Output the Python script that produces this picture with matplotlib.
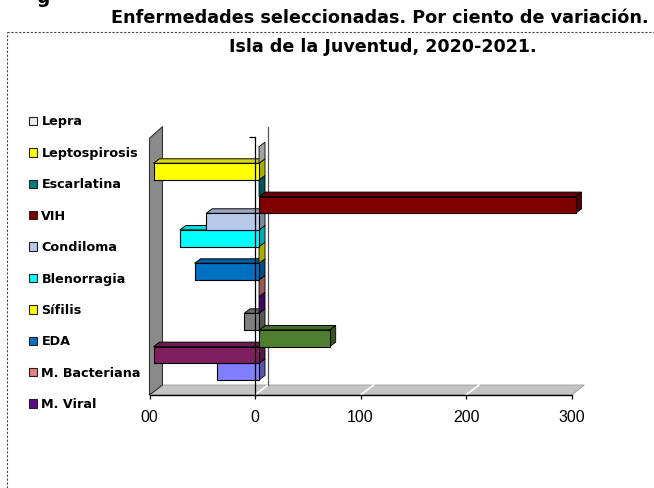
import matplotlib
matplotlib.use("Agg")
import matplotlib.pyplot as plt
from matplotlib.patches import Polygon, Patch
from matplotlib.lines import Line2D
from matplotlib.colors import to_rgb

# ---------------- data ----------------
title_line1 = "Enfermedades seleccionadas. Por ciento de variación."
title_line2 = "Isla de la Juventud, 2020-2021."

# named series (top to bottom, as in the legend)
categories = ["Lepra", "Leptospirosis", "Escarlatina", "VIH", "Condiloma",
              "Blenorragia", "Sífilis", "EDA", "M. Bacteriana", "M. Viral"]
values = [0, -100, 0, 300, -50, -75, 0, -61, 0, 0]
colors = ["#EEEEEE", "#FFFF00", "#007F7F", "#800000", "#B8C8E8",
          "#00FFFF", "#FFFF00", "#0070C0", "#E48080", "#5A0A8A"]

# series below them whose legend entries are cut off in the original
extra_values = [-14, 67, -100, -40]
extra_colors = ["#808080", "#4E7F2E", "#7F1F5F", "#8080FF"]

xticks = [-100, 0, 100, 200, 300]
xtick_labels = ["00", "0", "100", "200", "300"]

# ---------------- figure ----------------
W, H = 654, 488
fig = plt.figure(figsize=(W / 100, H / 100), dpi=100)

# axes mapping: px = 255 + 1.055*x ; py = 380 - 16.67*y
xlim = (-120, 320)
ylim = (-2, 16)
px_per_x = 1.055
px_per_y = 16.67
left_px = 255 + xlim[0] * px_per_x
bot_px = 380 - ylim[0] * px_per_y
ax = fig.add_axes([left_px / W, (H - bot_px) / H,
                   (xlim[1] - xlim[0]) * px_per_x / W,
                   (ylim[1] - ylim[0]) * px_per_y / H])
ax.set_xlim(*xlim)
ax.set_ylim(*ylim)
ax.patch.set_visible(False)

# 3D geometry (data units)
DX, DY = 12.3, 0.6        # depth of walls / floor
floor_y = -0.9
wall_top = 14.5
sx = 3.8                  # bar front-face shift
dxb, dyb = 5.7, 0.27      # bar depth


def shade(c, f):
    return tuple(min(1.0, v * f) for v in to_rgb(c))


# floor
ax.add_patch(Polygon([(-100, floor_y), (300, floor_y), (300 + DX, floor_y + DY),
                      (-100 + DX, floor_y + DY)], closed=True,
                     facecolor="#C4C4C4", edgecolor="#9A9A9A", lw=0.6, zorder=1))
for gx in [0, 100, 200]:
    ax.plot([gx, gx + DX], [floor_y, floor_y + DY], color="white", lw=1.2, zorder=1.1)
# left wall
ax.add_patch(Polygon([(-100, floor_y), (-100, wall_top), (-100 + DX, wall_top + DY + 0.1),
                      (-100 + DX, floor_y + DY)], closed=True,
                     facecolor="#8A8A8A", edgecolor="#333333", lw=0.8, zorder=1))
# back gridline at 0
ax.plot([DX, DX], [floor_y + DY, 15.2], color="#555555", lw=0.9, zorder=1.2)

# bars: bottom series first
all_values = values + extra_values
all_colors = colors + extra_colors
n = len(all_values)
for k in range(n - 1, -1, -1):
    v = all_values[k]
    c = all_colors[k]
    j = n - 1 - k
    z = 2 + j * 0.05
    x0 = min(0, v) + sx
    x1 = max(0, v) + sx
    if v != 0:
        ax.add_patch(Polygon([(x0, j + 1), (x1, j + 1), (x1 + dxb, j + 1 + dyb),
                              (x0 + dxb, j + 1 + dyb)], closed=True,
                             facecolor=shade(c, 0.85), edgecolor="black", lw=0.7, zorder=z))
    ax.add_patch(Polygon([(x1, j), (x1, j + 1), (x1 + dxb, j + 1 + dyb),
                          (x1 + dxb, j + dyb)], closed=True,
                         facecolor=shade(c, 0.68), edgecolor="black", lw=0.6, zorder=z))
    if v != 0:
        ax.barh(j + 0.5, v, left=sx, height=1.0, color=c, edgecolor="black",
                lw=0.8, zorder=z + 0.01)

# axes lines
for s in ["top", "right"]:
    ax.spines[s].set_visible(False)
ax.spines["bottom"].set_position(("data", floor_y))
ax.spines["bottom"].set_bounds(-100, 300)
ax.spines["bottom"].set_zorder(10)
ax.spines["bottom"].set_linewidth(1.0)
ax.spines["left"].set_position(("data", 0))
ax.spines["left"].set_bounds(floor_y, 14.6)
ax.spines["left"].set_zorder(10)
ax.spines["left"].set_linewidth(0.9)
ax.set_xticks(xticks)
ax.set_xticklabels(xtick_labels, family="Liberation Sans", fontsize=11.5)
ax.set_yticks([14.6])
ax.set_yticklabels([""])
ax.tick_params(axis="x", direction="out", length=3, width=0.9, pad=7.5, colors="black")
ax.tick_params(axis="y", direction="out", length=4, width=0.9)

# legend
handles = [Patch(facecolor=c, edgecolor="#222222", lw=0.8) for c in colors]
leg = fig.legend(handles, categories, loc="upper left",
                 bbox_to_anchor=(29 / W, 1 - 115.5 / H), frameon=False,
                 prop={"family": "DejaVu Sans", "weight": "bold", "size": 9.2},
                 handlelength=0.62, handleheight=0.62, handletextpad=0.35,
                 labelspacing=1.44, borderpad=0, borderaxespad=0)

# titles
fig.text(380 / W, 1 - 18 / H, title_line1, ha="center", va="center",
         family="DejaVu Sans", weight="bold", fontsize=12.7)
fig.text(383 / W, 1 - 47 / H, title_line2, ha="center", va="center",
         family="DejaVu Sans", weight="bold", fontsize=12.6)
fig.text(36 / W, 1 - 3 / H, "g", ha="left", va="baseline",
         family="DejaVu Sans", weight="bold", fontsize=13.4)

# dashed frame
fig.add_artist(Line2D([7 / W, 1], [1 - 32 / H, 1 - 32 / H], transform=fig.transFigure,
                      color="#444444", lw=0.8, ls=(0, (2, 1.5))))
fig.add_artist(Line2D([7 / W, 7 / W], [0, 1 - 32 / H], transform=fig.transFigure,
                      color="#444444", lw=0.8, ls=(0, (2, 1.5))))

fig.savefig("out.png", dpi=100)
